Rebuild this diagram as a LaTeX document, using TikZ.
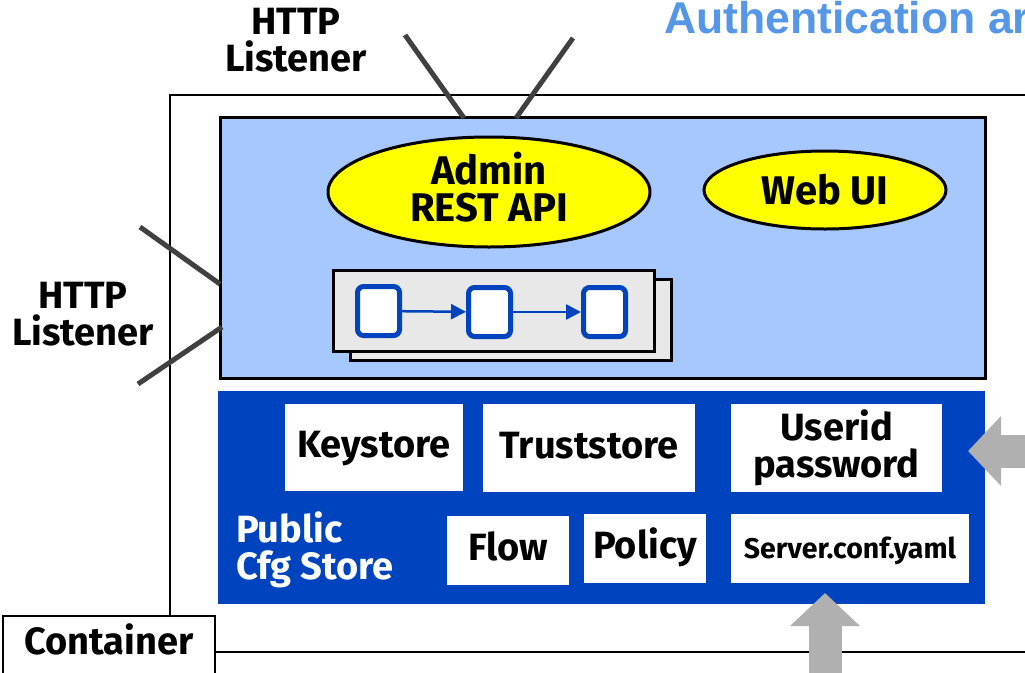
\documentclass[tikz,border=0pt]{standalone}
\usepackage{fontspec}
\setmainfont{Fira Sans}
\newfontfamily\titlefont{Liberation Sans}
\usepackage{xcolor}
\usetikzlibrary{positioning,arrows.meta,shapes.geometric}
\definecolor{storeblue}{HTML}{0043BE}
\definecolor{panelblue}{HTML}{A6C8FF}
\definecolor{titleblue}{HTML}{5596E6}
\definecolor{stackgrey}{HTML}{E8E8E8}
\definecolor{bigarrow}{HTML}{B0B0B0}
\definecolor{linegrey}{HTML}{404040}
\definecolor{apiyellow}{HTML}{FFFF00}

\begin{document}
\begin{tikzpicture}[x=1pt,y=-1pt,>=Triangle,
  boldtext/.style={font=\fontsize{38}{37}\selectfont\bfseries,align=center,inner sep=0pt,outer sep=0pt},
  whitebox/.style={boldtext,fill=white,anchor=north west},
  oneline/.style={whitebox,text height=28pt,text depth=8pt},
  api/.style={boldtext,font=\fontsize{40}{37}\selectfont\bfseries,ellipse,draw=black,line width=3pt,fill=apiyellow},
  sheet/.style={draw=black,line width=3pt,fill=stackgrey,anchor=north west,inner sep=0pt,outer sep=0pt},
  stepbox/.style={draw=storeblue,line width=5pt,fill=white,rounded corners=6pt,minimum width=42pt,minimum height=49pt,inner sep=0pt,outer sep=2.5pt},
  listener/.style={draw=linegrey,line width=5pt},
  feed/.style={draw=bigarrow,line width=33pt,-{Triangle[length=33pt,width=68pt]}}]
  \useasboundingbox (0,0) rectangle (1025,672);

  \node[draw=black,line width=2.5pt,anchor=north west,minimum width=900pt,minimum height=557pt,inner sep=0pt,outer sep=0pt] (container) at (170,95) {};
  \node[font=\fontsize{44.5}{46}\selectfont\bfseries\titlefont,text=titleblue,anchor=base west,inner sep=0pt] (title) at (664,33) {Authentication ar};

  \node[draw=black,line width=3pt,fill=panelblue,anchor=north west,minimum width=765pt,minimum height=261pt,inner sep=0pt,outer sep=0pt] (panel) at (220,117) {};
  \node[api,minimum width=322pt,minimum height=110pt,text depth=10pt,inner ysep=-6pt] (admin) at (489,192) {Admin\\REST API};
  \node[api,minimum width=242pt,minimum height=78pt,inner ysep=-6pt] (webui) at (825,190) {Web UI};

  \node[sheet,minimum width=321pt,minimum height=81pt] (backsheet) at (350,279) {};
  \node[sheet,minimum width=321pt,minimum height=81pt] (frontsheet) at (333,270) {};
  \node[stepbox] (stepa) at (378.5,311) {};
  \node[stepbox] [right=64pt of stepa,yshift=-1pt] (stepb) {};
  \node[stepbox] [right=68pt of stepb] (stepc) {};

  \node[fill=storeblue,anchor=north west,minimum width=767pt,minimum height=213pt,inner sep=0pt,outer sep=0pt] (store) at (218,391) {};
  \node[oneline,minimum width=178pt,minimum height=87pt] (keystore) at (285,404) {Keystore};
  \node[oneline,minimum width=212pt,minimum height=88pt] [right=20pt of keystore.north east,anchor=north west] (truststore) {Truststore};
  \node[whitebox,minimum width=211pt,minimum height=88pt] (userid) at (731,404) {Userid\\password};
  \node[oneline,minimum width=122pt,minimum height=69pt] (flow) at (447,516) {Flow};
  \node[oneline,minimum width=122pt,minimum height=69pt] (policy) at (584,514) {Policy};
  \node[oneline,font=\fontsize{28.5}{30}\selectfont\bfseries,minimum width=238pt,minimum height=69pt] (server) at (731,514) {Server.conf.yaml};
  \node[boldtext,text=white,align=left,anchor=north west] (public) at (236,512) {Public\\Cfg Store};

  \node[boldtext] (listenertop) at (296,40) {HTTP\\Listener};
  \node[boldtext] (listenerleft) at (83,314) {HTTP\\Listener};

  \coordinate (topa) at (405,35);
  \coordinate (topb) at (464,118);
  \coordinate (topc) at (573,38);
  \coordinate (topd) at (516,118);
  \coordinate (lefta) at (140,227);
  \coordinate (leftb) at (220,284);
  \coordinate (leftc) at (138,384);
  \coordinate (leftd) at (222,327);
  \coordinate (feedright) at (1040,451);
  \coordinate (feedrighttip) at (968,451);
  \coordinate (feedbottom) at (825,690);
  \coordinate (feedbottomtip) at (825,593);

  \draw[listener] (topa) -- (topb);
  \draw[listener] (topc) -- (topd);
  \draw[listener] (lefta) -- (leftb);
  \draw[listener] (leftc) -- (leftd);

  \draw[draw=storeblue,fill=storeblue,line width=2.5pt,-{Triangle[length=15pt,width=15pt]}] (stepa) -- (stepb);
  \draw[draw=storeblue,fill=storeblue,line width=2.5pt,-{Triangle[length=15pt,width=15pt]}] (stepb) -- (stepc);

  \draw[feed] (feedright) -- (feedrighttip);
  \draw[feed] (feedbottom) -- (feedbottomtip);

  \node[boldtext,draw=black,line width=2.5pt,fill=white,anchor=north west,text width=212pt,text height=38pt,text depth=30pt] (containerlabel) at (3,616) {Container};
\end{tikzpicture}
\end{document}
